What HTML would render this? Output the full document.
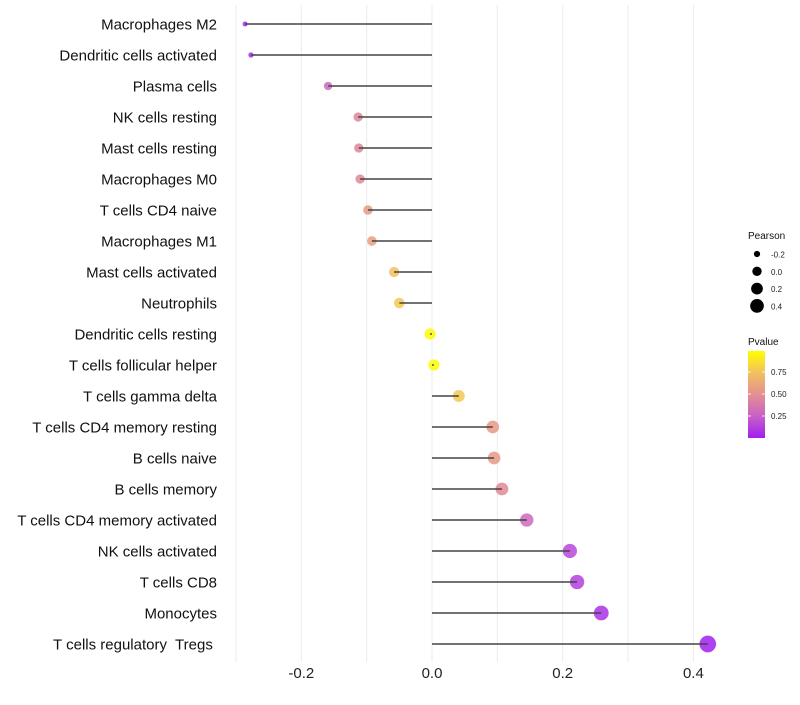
<!DOCTYPE html>
<html><head><meta charset="utf-8"><style>
body{margin:0;background:#fff;font-family:"Liberation Sans",sans-serif}
svg text{font-family:"Liberation Sans",sans-serif;white-space:pre}
</style></head><body>
<svg id="chart" width="800" height="700"></svg>
<script>
const categories=["Macrophages M2","Dendritic cells activated","Plasma cells","NK cells resting","Mast cells resting","Macrophages M0","T cells CD4 naive","Macrophages M1","Mast cells activated","Neutrophils","Dendritic cells resting","T cells follicular helper","T cells gamma delta","T cells CD4 memory resting","B cells naive","B cells memory","T cells CD4 memory activated","NK cells activated","T cells CD8","Monocytes","T cells regulatory  Tregs "];
const pearson=[-0.286,-0.277,-0.159,-0.113,-0.112,-0.110,-0.098,-0.092,-0.058,-0.050,-0.003,0.003,0.041,0.093,0.095,0.107,0.145,0.211,0.222,0.259,0.422];
const pvalues=[0.02,0.03,0.30,0.45,0.45,0.46,0.55,0.58,0.75,0.78,0.98,0.98,0.78,0.55,0.55,0.47,0.30,0.15,0.12,0.07,0.001];
const xTicks=[-0.2,0.0,0.2,0.4];
const xGrid=[-0.3,-0.2,-0.1,0,0.1,0.2,0.3,0.4];
const sizeLegend=[-0.2,0.0,0.2,0.4];
const colorTicks=[0.25,0.5,0.75];

const NS="http://www.w3.org/2000/svg";
const svg=document.getElementById('chart');
function el(t,a,p){const e=document.createElementNS(NS,t);for(const k in a)e.setAttribute(k,a[k]);(p||svg).appendChild(e);return e;}
const x=v=>432+v*653.5;
const y=i=>24+i*31;
const r=v=>Math.sqrt(Math.max(3,22+62*v));
const rp=v=>1.2*r(v);
const stops=[[0,[160,32,240]],[0.25,[200,96,200]],[0.5,[227,144,144]],[0.75,[242,192,96]],[1,[255,255,0]]];
function col(p){for(let i=1;i<stops.length;i++){if(p<=stops[i][0]){const a=stops[i-1],b=stops[i],t=(p-a[0])/(b[0]-a[0]);return 'rgb('+a[1].map((c,j)=>Math.round(c+(b[1][j]-c)*t)).join(',')+')';}}return 'rgb(255,255,0)';}

xGrid.forEach(v=>{const g=el('line',{x1:x(v),x2:x(v),y1:5,y2:662,stroke:'#ebebeb','stroke-width':1});

});
xTicks.forEach(v=>{const t=el('text',{x:x(v),y:678,'text-anchor':'middle','font-size':15,fill:'#222'});t.textContent=v.toFixed(1);

});
categories.forEach((c,i)=>{
const t=el('text',{x:217,y:y(i)+5.5,'text-anchor':'end','font-size':15,fill:'#111'});t.textContent=c;


const pt=el('circle',{cx:x(pearson[i]),cy:y(i),r:rp(pearson[i]),fill:col(pvalues[i]),'fill-opacity':0.85});


const s=el('line',{x1:x(0),x2:x(pearson[i]),y1:y(i),y2:y(i),stroke:'#444','stroke-width':1.4});


});
const lt=el('text',{x:748,y:239,'font-size':10,fill:'#111'});lt.textContent='Pearson';


sizeLegend.forEach((v,i)=>{const cy=254+i*17.3;
const c=el('circle',{cx:757,cy:cy,r:r(v),fill:'#000'});


const t=el('text',{x:771,y:cy+3.5,'font-size':8,fill:'#222'});t.textContent=v.toFixed(1);

});
const ct=el('text',{x:748,y:345,'font-size':10,fill:'#111'});ct.textContent='Pvalue';


const defs=el('defs',{});const lg=el('linearGradient',{id:'pg',x1:0,y1:1,x2:0,y2:0},defs);
stops.forEach(s=>el('stop',{offset:s[0],'stop-color':'rgb('+s[1].join(',')+')'},lg));
const bar=el('rect',{x:748,y:351,width:17,height:87,fill:'url(#pg)'});


colorTicks.forEach(v=>{const yy=438-v*88;
el('line',{x1:748,x2:751,y1:yy,y2:yy,stroke:'#fff','stroke-width':0.8});
el('line',{x1:762,x2:765,y1:yy,y2:yy,stroke:'#fff','stroke-width':0.8});
const t=el('text',{x:771,y:yy+3,'font-size':8,fill:'#222'});t.textContent=v.toFixed(2);

});
</script>
</body></html>
